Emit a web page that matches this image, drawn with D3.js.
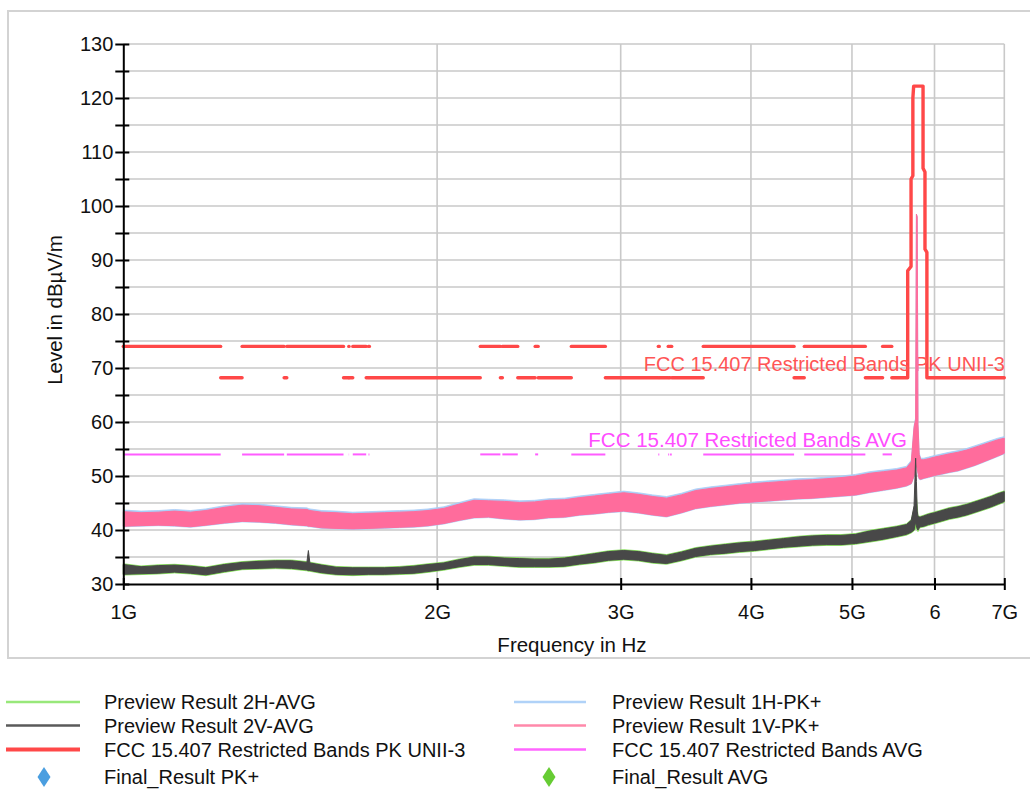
<!DOCTYPE html>
<html><head><meta charset="utf-8">
<script src="https://cdn.jsdelivr.net/npm/d3@7"></script>
<style>
body{margin:0;background:#fff;}
text{font-family:"Liberation Sans",Arial,sans-serif;}
</style>
</head><body>
<svg id="chart" width="1030" height="791"></svg>
<script>
// ---------------- DATA ----------------
const freqGHz = [1.00,1.04,1.08,1.12,1.16,1.20,1.25,1.30,1.35,1.40,1.45,1.50,1.505,1.51,1.55,1.60,1.66,1.72,1.78,1.84,1.90,1.96,2.03,2.10,2.17,2.24,2.32,2.40,2.48,2.56,2.65,2.74,2.83,2.92,3.02,3.12,3.22,3.32,3.43,3.54,3.66,3.78,3.90,4.03,4.16,4.30,4.44,4.58,4.73,4.88,5.04,5.20,5.36,5.52,5.64,5.70,5.735,5.755,5.765,5.775,5.785,5.80,5.82,5.86,5.92,6.00,6.10,6.20,6.32,6.44,6.56,6.68,6.80,6.90,7.00];

// Preview Result 1V-PK+ (upper / lower edge of the noisy trace)
const pk1V_hi = [43.4,43.2,43.3,43.5,43.3,43.6,44.2,44.6,44.5,44.2,43.9,43.8,43.7,43.6,43.3,43.2,43.0,43.1,43.2,43.3,43.4,43.6,44.0,44.8,45.5,45.4,45.3,45.1,45.2,45.5,45.6,46.0,46.3,46.6,46.9,46.6,46.2,45.9,46.5,47.3,47.7,48.0,48.3,48.6,48.8,49.0,49.2,49.3,49.5,49.7,50.0,50.5,50.8,51.1,51.5,52.6,59.0,60.5,98.5,98.0,59.5,54.0,53.0,53.0,53.2,53.5,53.8,54.1,54.4,54.8,55.3,55.8,56.3,56.7,57.0];
const pk1V_lo = [40.7,40.8,40.9,40.8,40.6,40.9,41.3,41.6,41.5,41.3,41.0,40.8,40.7,40.7,40.4,40.3,40.2,40.3,40.4,40.5,40.6,40.8,41.2,41.8,42.3,42.4,42.1,41.9,42.0,42.3,42.4,42.8,43.0,43.3,43.5,43.2,42.8,42.5,43.2,44.0,44.4,44.7,45.0,45.2,45.4,45.6,45.8,45.9,46.1,46.3,46.5,47.0,47.4,47.8,48.2,48.6,50.0,51.0,52.0,51.5,50.5,49.5,49.4,49.6,49.8,50.1,50.4,50.7,51.0,51.5,52.0,52.6,53.2,53.7,54.2];

// Preview Result 1H-PK+
const pk1H_hi = [43.7,43.5,43.6,43.8,43.6,43.9,44.5,44.9,44.8,44.5,44.2,44.1,44.0,43.9,43.6,43.5,43.3,43.4,43.5,43.6,43.7,43.9,44.3,45.1,45.8,45.7,45.6,45.4,45.5,45.8,45.9,46.3,46.6,46.9,47.2,46.9,46.5,46.2,46.8,47.6,48.0,48.3,48.6,48.9,49.1,49.3,49.5,49.6,49.8,50.0,50.3,50.8,51.1,51.4,51.8,52.9,59.3,60.8,98.5,98.0,59.8,54.3,53.3,53.3,53.5,53.8,54.1,54.4,54.7,55.1,55.6,56.1,56.6,57.0,57.3];
const pk1H_lo = [40.6,40.7,40.8,40.7,40.5,40.8,41.2,41.5,41.4,41.2,40.9,40.7,40.6,40.6,40.3,40.2,40.1,40.2,40.3,40.4,40.5,40.7,41.1,41.7,42.2,42.3,42.0,41.8,41.9,42.2,42.3,42.7,42.9,43.2,43.4,43.1,42.7,42.4,43.1,43.9,44.3,44.6,44.9,45.1,45.3,45.5,45.7,45.8,46.0,46.2,46.4,46.9,47.3,47.7,48.1,48.5,49.9,50.9,51.9,51.4,50.4,49.4,49.3,49.5,49.7,50.0,50.3,50.6,50.9,51.4,51.9,52.5,53.1,53.6,54.1];

// Preview Result 2V-AVG
const avg2V_hi = [33.6,33.2,33.4,33.5,33.3,33.0,33.6,34.0,34.2,34.3,34.3,34.0,36.2,33.9,33.5,33.1,33.0,33.0,33.0,33.1,33.3,33.6,33.9,34.5,35.0,35.0,34.8,34.7,34.6,34.6,34.8,35.2,35.6,36.0,36.2,36.0,35.6,35.3,35.9,36.6,37.0,37.3,37.6,37.8,38.1,38.4,38.7,38.9,39.0,39.0,39.2,39.8,40.2,40.6,41.0,41.8,44.5,53.3,49.0,43.5,42.5,42.4,42.4,42.6,42.9,43.2,43.6,44.0,44.3,44.7,45.2,45.7,46.2,46.7,47.1];
const avg2V_lo = [31.8,31.9,32.0,32.2,32.0,31.7,32.3,32.8,32.9,33.0,32.9,32.6,32.5,32.5,32.1,31.8,31.7,31.8,31.8,31.9,32.0,32.3,32.7,33.2,33.6,33.6,33.4,33.2,33.2,33.2,33.3,33.7,34.0,34.4,34.6,34.4,34.0,33.8,34.4,35.1,35.5,35.7,36.0,36.2,36.5,36.8,37.0,37.2,37.3,37.3,37.5,37.9,38.3,38.8,39.2,39.6,40.0,41.5,40.8,40.2,40.0,40.4,40.6,40.7,41.0,41.3,41.7,42.1,42.4,42.8,43.3,43.8,44.3,44.8,45.3];

// Preview Result 2H-AVG
const avg2H_hi = [33.75,33.35,33.55,33.65,33.45,33.15,33.75,34.15,34.35,34.45,34.45,34.15,34.1,34.05,33.65,33.25,33.15,33.15,33.15,33.25,33.45,33.75,34.05,34.65,35.15,35.15,34.95,34.85,34.75,34.75,34.95,35.35,35.75,36.15,36.35,36.15,35.75,35.45,36.05,36.75,37.15,37.45,37.75,37.95,38.25,38.55,38.85,39.05,39.15,39.15,39.35,39.95,40.35,40.75,41.15,41.95,44.0,45.5,46.0,44.5,42.65,42.55,42.55,42.75,43.05,43.35,43.75,44.15,44.45,44.85,45.35,45.85,46.35,46.85,47.25];
const avg2H_lo = [31.65,31.75,31.85,32.05,31.85,31.55,32.15,32.65,32.75,32.85,32.75,32.45,32.35,32.35,31.95,31.65,31.55,31.65,31.65,31.75,31.85,32.15,32.55,33.05,33.45,33.45,33.25,33.05,33.05,33.05,33.15,33.55,33.85,34.25,34.45,34.25,33.85,33.65,34.25,34.95,35.35,35.55,35.85,36.05,36.35,36.65,36.85,37.05,37.15,37.15,37.35,37.75,38.15,38.65,39.05,39.45,39.85,40.2,40.5,39.9,39.7,40.25,40.45,40.55,40.85,41.15,41.55,41.95,42.25,42.65,43.15,43.65,44.15,44.65,45.15];

// FCC 15.205 restricted bands (GHz) -> PK limit 74, AVG limit 54
const restrictedBands = [[1.0,1.24],[1.30,1.4265],[1.435,1.6265],[1.6455,1.6465],[1.66,1.71],[1.7188,1.7222],[2.2,2.3],[2.31,2.39],[2.4835,2.5],[2.69,2.9],[3.26,3.267],[3.332,3.339],[3.3458,3.358],[3.6,4.4],[4.5,5.15],[5.35,5.46]];
const pkRestrictedLevel = 74;
const avgRestrictedLevel = 54;
// Non-restricted segments at 68.2 dBuV/m
const pkOtherBands = [[1.24,1.30],[1.4265,1.435],[1.6265,1.6455],[1.6465,1.66],[1.71,1.7188],[1.7222,2.2],[2.3,2.31],[2.39,2.4835],[2.5,2.69],[2.9,3.26],[3.267,3.332],[3.339,3.3458],[3.358,3.6],[4.4,4.5],[5.15,5.35]];
const pkOtherLevel = 68.2;
// UNII-3 PK mask polyline (GHz, dBuV/m)
const unii3MaskFreq  = [5.46,5.655,5.655,5.697,5.697,5.72,5.72,5.73,5.85,5.85,5.875,5.875,5.90,5.90,7.0];
const unii3MaskLevel = [68.2,68.2,88.0,88.8,105.0,105.6,120.0,122.2,122.2,107.0,106.3,92.0,91.4,68.2,68.2];

const xTickValues = [1,2,3,4,5,6,7];
const xTickLabels = ["1G","2G","3G","4G","5G","6","7G"];
const yTickValues = [30,35,40,45,50,55,60,65,70,75,80,85,90,95,100,105,110,115,120,125,130];
const yLabelValues = [30,40,50,60,70,80,90,100,110,120,130];

const legendLeft  = ["Preview Result 2H-AVG","Preview Result 2V-AVG","FCC 15.407 Restricted Bands PK UNII-3","Final_Result PK+"];
const legendRight = ["Preview Result 1H-PK+","Preview Result 1V-PK+","FCC 15.407 Restricted Bands AVG","Final_Result AVG"];

// ---------------- DRAW ----------------
const svg = d3.select("#chart");
const x = d3.scaleLog().domain([1,7]).range([123.3,1004.3]);
const y = d3.scaleLinear().domain([30,130]).range([584,44]);

// outer panel frame
svg.append("rect").attr("x",8).attr("y",11).attr("width",1040).attr("height",647)
  .attr("fill","#fff").attr("stroke","#d3d3d3").attr("stroke-width",2);

// gridlines
const grid = svg.append("g");
grid.selectAll("line.h").data(yTickValues.filter(v=>v>30)).join("line")
  .attr("x1",x(1)).attr("x2",x(7)).attr("y1",d=>y(d)).attr("y2",d=>y(d))
  .attr("stroke","#c9c9c9").attr("stroke-width",1.6);
grid.selectAll("line.v").data(xTickValues.filter(v=>v>1)).join("line")
  .attr("x1",d=>x(d)).attr("x2",d=>x(d)).attr("y1",y(130)).attr("y2",y(30))
  .attr("stroke","#c9c9c9").attr("stroke-width",1.6);

// limit lines
const lim = svg.append("g");
const segLine = d3.line().x(d=>x(d[0])).y(d=>y(d[1]));
lim.selectAll("path.avg").data(restrictedBands).join("path")
  .attr("d",b=>segLine([[b[0],avgRestrictedLevel],[b[1],avgRestrictedLevel]]))
  .attr("fill","none").attr("stroke","#ff5cff").attr("stroke-width",2);
lim.selectAll("path.pk74").data(restrictedBands).join("path")
  .attr("d",b=>segLine([[b[0],pkRestrictedLevel],[b[1],pkRestrictedLevel]]))
  .attr("fill","none").attr("stroke","#ff4848").attr("stroke-width",3.4).attr("stroke-linecap","round");
lim.selectAll("path.pk68").data(pkOtherBands).join("path")
  .attr("d",b=>segLine([[b[0],pkOtherLevel],[b[1],pkOtherLevel]]))
  .attr("fill","none").attr("stroke","#ff4848").attr("stroke-width",3.4).attr("stroke-linecap","round");
lim.append("path")
  .attr("d",segLine(unii3MaskFreq.map((f,i)=>[f,unii3MaskLevel[i]])))
  .attr("fill","none").attr("stroke","#ff4848").attr("stroke-width",3.4)
  .attr("stroke-linejoin","round").attr("stroke-linecap","round");

// limit labels
svg.append("text").attr("x",1005).attr("y",371).attr("text-anchor","end")
  .attr("font-size",20).attr("fill","#ff5555").text("FCC 15.407 Restricted Bands PK UNII-3");
svg.append("text").attr("x",907).attr("y",447).attr("text-anchor","end")
  .attr("font-size",20.5).attr("fill","#ff4cff").text("FCC 15.407 Restricted Bands AVG");

// traces
function band(hi, lo, color, strokeW){
  const data = freqGHz.map((f,i)=>({f, hi:hi[i], lo:lo[i]}));
  const area = d3.area().x(d=>x(d.f)).y0(d=>y(d.lo)).y1(d=>y(d.hi));
  svg.append("path").datum(data).attr("d",area)
    .attr("fill",color).attr("stroke",color).attr("stroke-width",strokeW).attr("stroke-linejoin","round");
}
band(pk1H_hi, pk1H_lo, "#a9cdf6", 0.8);
band(pk1V_hi, pk1V_lo, "#ff6c9c", 1.0);
band(avg2H_hi, avg2H_lo, "#7fdc52", 0.8);
band(avg2V_hi, avg2V_lo, "#484848", 1.0);

// axes
const yAxis = svg.append("g").attr("transform",`translate(${x(1)},0)`)
  .call(d3.axisLeft(y).tickValues(yTickValues).tickSizeInner(8).tickSizeOuter(0).tickPadding(2)
    .tickFormat(d=>yLabelValues.includes(d)?String(d):""));
yAxis.select(".domain").attr("stroke","#000").attr("stroke-width",2);
yAxis.selectAll(".tick line").attr("x1",6).attr("x2",-8).attr("stroke","#000").attr("stroke-width",2);
yAxis.selectAll(".tick text").attr("font-size",20).attr("fill","#111").attr("font-family","'Liberation Sans',Arial,sans-serif");

const xAxis = svg.append("g").attr("transform",`translate(0,${y(30)})`)
  .call(d3.axisBottom(x).tickValues(xTickValues).tickSizeInner(6).tickSizeOuter(0).tickPadding(15)
    .tickFormat((d,i)=>xTickLabels[i]));
xAxis.select(".domain").attr("stroke","#000").attr("stroke-width",2);
xAxis.selectAll(".tick line").attr("y1",-6).attr("y2",6).attr("stroke","#000").attr("stroke-width",2);
xAxis.selectAll(".tick text").attr("font-size",20).attr("fill","#111").attr("font-family","'Liberation Sans',Arial,sans-serif");

// axis titles
svg.append("text").attr("x",572).attr("y",652).attr("text-anchor","middle")
  .attr("font-size",20.5).attr("fill","#111").text("Frequency in Hz");
svg.append("text").attr("transform","translate(62,310) rotate(-90)").attr("text-anchor","middle")
  .attr("font-size",20.5).attr("fill","#111").text("Level in dB\u00B5V/m");

// legend
const legendColors = {
  "Preview Result 2H-AVG":"#98e87a","Preview Result 2V-AVG":"#5a5a5a",
  "FCC 15.407 Restricted Bands PK UNII-3":"#ff4848","Final_Result PK+":"#4a9ee0",
  "Preview Result 1H-PK+":"#b0d2f8","Preview Result 1V-PK+":"#ff88aa",
  "FCC 15.407 Restricted Bands AVG":"#ff66ff","Final_Result AVG":"#66cc33"};
const rowY = [702,725.5,749.5,777];
function legendCol(items, lx0, lx1, mx, tx){
  items.forEach((name,i)=>{
    const cy = rowY[i];
    if(name.startsWith("Final")){
      svg.append("path").attr("d",`M${mx},${cy-10}L${mx+6.5},${cy}L${mx},${cy+10}L${mx-6.5},${cy}Z`)
        .attr("fill",legendColors[name]);
    } else {
      svg.append("line").attr("x1",lx0).attr("x2",lx1).attr("y1",cy).attr("y2",cy)
        .attr("stroke",legendColors[name]).attr("stroke-width",name.includes("PK UNII")?4:2.6);
    }
    svg.append("text").attr("x",tx).attr("y",cy+7).attr("font-size",20).attr("fill","#111").text(name);
  });
}
legendCol(legendLeft, 6, 80, 44, 104);
legendCol(legendRight, 514, 586, 549, 612);
</script>
</body></html>
